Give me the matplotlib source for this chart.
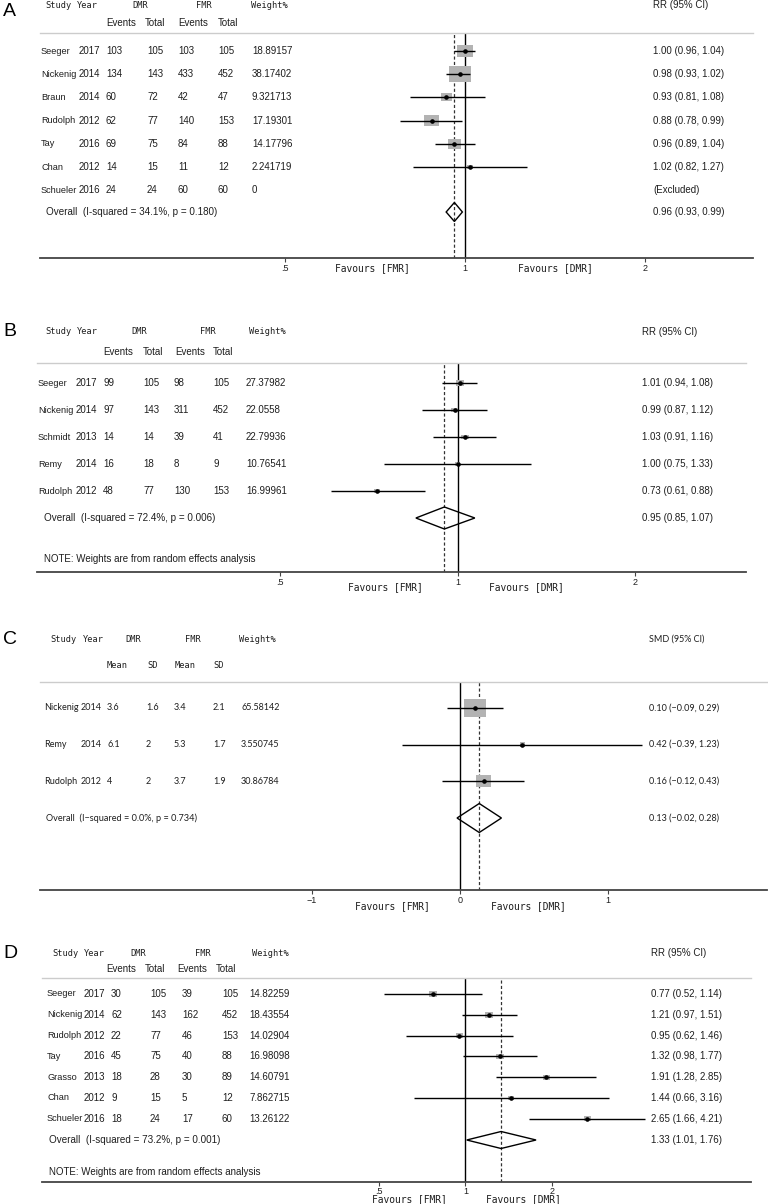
import matplotlib
matplotlib.use("Agg")
import matplotlib.pyplot as plt
import numpy as np
from matplotlib.path import Path
from matplotlib.ticker import FixedLocator, FixedFormatter, NullLocator
from matplotlib import font_manager

# ---------------- data ----------------
# Panel A
studies_A = ["Seeger", "Nickenig", "Braun", "Rudolph", "Tay", "Chan", "Schueler"]
years_A = [2017, 2014, 2014, 2012, 2016, 2012, 2016]
dmr_ev_A = [103, 134, 60, 62, 69, 14, 24]
dmr_tot_A = [105, 143, 72, 77, 75, 15, 24]
fmr_ev_A = [103, 433, 42, 140, 84, 11, 60]
fmr_tot_A = [105, 452, 47, 153, 88, 12, 60]
weight_A = [18.89157, 38.17402, 9.321713, 17.19301, 14.17796, 2.241719, 0]
rr_A = [1.00, 0.98, 0.93, 0.88, 0.96, 1.02, None]
lo_A = [0.96, 0.93, 0.81, 0.78, 0.89, 0.82, None]
hi_A = [1.04, 1.02, 1.08, 0.99, 1.04, 1.27, None]
overall_A = [0.96, 0.93, 0.99]
overall_text_A = "Overall  (I-squared = 34.1%, p = 0.180)"

# Panel B
studies_B = ["Seeger", "Nickenig", "Schmidt", "Remy", "Rudolph"]
years_B = [2017, 2014, 2013, 2014, 2012]
dmr_ev_B = [99, 97, 14, 16, 48]
dmr_tot_B = [105, 143, 14, 18, 77]
fmr_ev_B = [98, 311, 39, 8, 130]
fmr_tot_B = [105, 452, 41, 9, 153]
weight_B = [27.37982, 22.0558, 22.79936, 10.76541, 16.99961]
rr_B = [1.01, 0.99, 1.03, 1.00, 0.73]
lo_B = [0.94, 0.87, 0.91, 0.75, 0.61]
hi_B = [1.08, 1.12, 1.16, 1.33, 0.88]
overall_B = [0.95, 0.85, 1.07]
overall_text_B = "Overall  (I-squared = 72.4%, p = 0.006)"

# Panel C
studies_C = ["Nickenig", "Remy", "Rudolph"]
years_C = [2014, 2014, 2012]
dmr_mean_C = [3.6, 6.1, 4]
dmr_sd_C = [1.6, 2, 2]
fmr_mean_C = [3.4, 5.3, 3.7]
fmr_sd_C = [2.1, 1.7, 1.9]
weight_C = [65.58142, 3.550745, 30.86784]
smd_C = [0.10, 0.42, 0.16]
lo_C = [-0.09, -0.39, -0.12]
hi_C = [0.29, 1.23, 0.43]
overall_C = [0.13, -0.02, 0.28]
overall_text_C = "Overall  (I\u2212squared = 0.0%, p = 0.734)"

# Panel D
studies_D = ["Seeger", "Nickenig", "Rudolph", "Tay", "Grasso", "Chan", "Schueler"]
years_D = [2017, 2014, 2012, 2016, 2013, 2012, 2016]
dmr_ev_D = [30, 62, 22, 45, 18, 9, 18]
dmr_tot_D = [105, 143, 77, 75, 28, 15, 24]
fmr_ev_D = [39, 162, 46, 40, 30, 5, 17]
fmr_tot_D = [105, 452, 153, 88, 89, 12, 60]
weight_D = [14.82259, 18.43554, 14.02904, 16.98098, 14.60791, 7.862715, 13.26122]
rr_D = [0.77, 1.21, 0.95, 1.32, 1.91, 1.44, 2.65]
lo_D = [0.52, 0.97, 0.62, 0.98, 1.28, 0.66, 1.66]
hi_D = [1.14, 1.51, 1.46, 1.77, 2.85, 3.16, 4.21]
overall_D = [1.33, 1.01, 1.76]
overall_text_D = "Overall  (I-squared = 73.2%, p = 0.001)"

log_ticks = [0.5, 1, 2]
log_ticklabels = [".5", "1", "2"]
lin_ticks = [-1, 0, 1]
lin_ticklabels = ["\u22121", "0", "1"]
note_text = "NOTE: Weights are from random effects analysis"

# ---------------- figure ----------------
W, H = 768, 1204
fig = plt.figure(figsize=(W / 100, H / 100), dpi=100)
fig.patch.set_facecolor("white")

SANS = "Liberation Sans"
MONO = "DejaVu Sans Mono"
TXT = "#1e1e1e"
_installed = {f.name for f in font_manager.fontManager.ttflist}
if "Liberation Sans Narrow" in _installed:
    NAMEFONT, NAMESIZE = "Liberation Sans Narrow", 7.4
else:
    NAMEFONT, NAMESIZE = SANS, 6.6


def ftext(x, y, s, **kw):
    kw.setdefault("va", "center")
    kw.setdefault("color", TXT)
    fig.text(x / W, 1 - y / H, s, **kw)


def rect_marker(aspect):
    return Path([(-1, -aspect), (1, -aspect), (1, aspect), (-1, aspect), (-1, -aspect)],
                [Path.MOVETO, Path.LINETO, Path.LINETO, Path.LINETO, Path.CLOSEPOLY])


def draw_panel(P):
    L, R = P["L"], P["R"]
    ax = fig.add_axes([L / W, 1 - P["axis_y"] / H, (R - L) / W,
                       (P["axis_y"] - P["line_y"]) / H])
    (v1, p1), (v2, p2) = P["tickmap"]
    if P["log"]:
        f, finv = np.log, np.exp
        ax.set_xscale("log")
    else:
        f, finv = (lambda v: v), (lambda v: v)
    scale = (p2 - p1) / (f(v2) - f(v1))
    ax.set_xlim(finv(f(v1) + (L - p1) / scale), finv(f(v1) + (R - p1) / scale))
    ax.set_ylim(P["axis_y"], P["line_y"])
    ax.patch.set_alpha(0)

    for s in ["left", "right"]:
        ax.spines[s].set_visible(False)
    ax.spines["top"].set_color("#cccccc")
    ax.spines["top"].set_linewidth(1.0)
    ax.spines["bottom"].set_color("#444444")
    ax.spines["bottom"].set_linewidth(1.3)
    ax.yaxis.set_major_locator(NullLocator())
    ax.yaxis.set_minor_locator(NullLocator())
    ax.xaxis.set_major_locator(FixedLocator(P["ticks"]))
    ax.xaxis.set_major_formatter(FixedFormatter(P["ticklabels"]))
    ax.xaxis.set_minor_locator(NullLocator())
    ax.tick_params(axis="x", direction="out", length=3, width=0.8, color="#444444",
                   labelsize=6.5, pad=P["tickpad"], labelcolor=TXT)
    for lab in ax.get_xticklabels():
        lab.set_fontfamily(SANS)

    n = len(P["names"])
    ys = [P["first"] + i * P["step"] for i in range(n)]

    ax.axvline(P["null"], color="black", lw=1.0, zorder=2)
    ax.axvline(P["overall"][0], color="#333333", lw=0.9, ls=(0, (2.5, 1.8)), zorder=2)

    marker = rect_marker(P["aspect"])
    for i in range(n):
        e = P["est"][i]
        if e is None:
            continue
        ax.hlines(ys[i], P["lo"][i], P["hi"][i], color="black", lw=1.0, zorder=4)
        wpx = P["boxk"] * np.sqrt(P["weight"][i])
        ax.scatter([e], [ys[i]], marker=marker, s=(0.72 * wpx) ** 2,
                   color="#b3b3b3", edgecolors="none", zorder=3)
        ax.plot([e], [ys[i]], "o", ms=2.3, color="black", zorder=5)

    oe, ol, oh = P["overall"]
    yo, hd = P["overall_y"], P["dh"]
    ax.fill([ol, oe, oh, oe, ol], [yo, yo - hd, yo, yo + hd, yo],
            facecolor="none", edgecolor="black", lw=1.0, zorder=6)

    # ---- table text ----
    cx = P["cols"]
    tf = P["font"]
    nm, ov = P["numsize"], P["ovsize"]
    ftext(3, P["letter_y"], P["letter"], fontsize=14, family=SANS, color="black")
    hx = P["hdr"]
    ftext(hx[0], P["h1"], "Study", fontsize=6.2, family=MONO)
    ftext(hx[1], P["h1"], "Year", fontsize=6.2, family=MONO)
    ftext(hx[2], P["h1"], "DMR", fontsize=6.2, family=MONO, ha="center")
    ftext(hx[3], P["h1"], "FMR", fontsize=6.2, family=MONO, ha="center")
    ftext(hx[4], P["h1"], "Weight%", fontsize=6.2, family=MONO)
    sub = P["sub"]
    for k in range(4):
        ftext(P["subx"][k], P["h2"], sub[k], fontsize=P["subsize"], family=P["subfont"])
    ftext(P["rrx"], P["h1"], P["rrhead"], fontsize=nm, family=tf)

    for i in range(n):
        y = ys[i]
        ftext(cx[0], y, P["names"][i], fontsize=P["namesize"], family=P["namefont"])
        for j, col in enumerate(P["coldata"]):
            ftext(cx[j + 1], y, str(col[i]), fontsize=nm, family=tf)
        e = P["est"][i]
        if e is None:
            s = "(Excluded)"
        else:
            s = f"{e:.2f} ({P['lo'][i]:.2f}, {P['hi'][i]:.2f})"
            if P.get("minus"):
                s = s.replace("-", "\u2212")
        ftext(P["rrx"], y, s, fontsize=nm, family=tf)
    ftext(P["ovx"], P["overall_y"], P["overall_text"], fontsize=ov, family=tf)
    s = f"{oe:.2f} ({ol:.2f}, {oh:.2f})"
    if P.get("minus"):
        s = s.replace("-", "\u2212")
    ftext(P["rrx"], P["overall_y"], s, fontsize=nm, family=tf)
    if P.get("note_y"):
        ftext(P["ovx"], P["note_y"], note_text, fontsize=ov - 0.1, family=tf)
    ftext(P["fav"][0], P["fav_y"], "Favours [FMR]", fontsize=6.9, family=MONO, ha="center")
    ftext(P["fav"][1], P["fav_y"], "Favours [DMR]", fontsize=6.9, family=MONO, ha="center")


common_rr = dict(font=SANS, namefont=NAMEFONT, namesize=NAMESIZE, numsize=7.0, ovsize=7.1,
                 sub=["Events", "Total", "Events", "Total"], subfont=SANS, subsize=7.0,
                 rrhead="RR (95% CI)", ticks=log_ticks, ticklabels=log_ticklabels,
                 null=1, log=True)

panels = [
    dict(common_rr, letter="A", letter_y=12, h1=5, h2=23, line_y=33, axis_y=258,
         first=51, step=23.2, overall_y=212, note_y=None, dh=9.5,
         L=40, R=753, tickmap=[(0.5, 285), (2, 645)], tickpad=1.5,
         names=studies_A, est=rr_A, lo=lo_A, hi=hi_A, weight=weight_A,
         overall=overall_A, overall_text=overall_text_A,
         coldata=[years_A, dmr_ev_A, dmr_tot_A, fmr_ev_A, fmr_tot_A, weight_A],
         cols=[41, 79, 106, 147, 178, 218, 252], ovx=46, rrx=653,
         hdr=[45, 77, 140, 204, 251], subx=[106, 145, 178, 218],
         boxk=3.56, aspect=0.72, fav=[372, 555], fav_y=268),
    dict(common_rr, letter="B", letter_y=331, h1=332, h2=352, line_y=363, axis_y=572,
         first=383, step=27, overall_y=518, note_y=559, dh=11,
         L=37, R=746, tickmap=[(0.5, 280), (2, 635)], tickpad=1.5,
         names=studies_B, est=rr_B, lo=lo_B, hi=hi_B, weight=weight_B,
         overall=overall_B, overall_text=overall_text_B,
         coldata=[years_B, dmr_ev_B, dmr_tot_B, fmr_ev_B, fmr_tot_B, weight_B],
         cols=[38, 76, 103, 143, 174, 213, 246], ovx=44, rrx=642,
         hdr=[45, 77, 139, 208, 249], subx=[103, 143, 175, 213],
         boxk=1.5, aspect=0.68, fav=[385, 526], fav_y=587),
    dict(letter="C", letter_y=640, h1=639, h2=666, line_y=682, axis_y=890,
         first=708, step=36.5, overall_y=818, note_y=None, dh=14.5,
         L=40, R=767, log=False, tickmap=[(-1, 312), (1, 608)],
         ticks=lin_ticks, ticklabels=lin_ticklabels, tickpad=1.5, null=0,
         names=studies_C, est=smd_C, lo=lo_C, hi=hi_C, weight=weight_C,
         overall=overall_C, overall_text=overall_text_C,
         coldata=[years_C, dmr_mean_C, dmr_sd_C, fmr_mean_C, fmr_sd_C, weight_C],
         cols=[44, 81, 107, 146, 174, 213, 241], ovx=46, rrx=649,
         hdr=[50, 83, 133, 193, 239], sub=["Mean", "SD", "Mean", "SD"],
         subx=[107, 147, 175, 213], subfont=MONO, subsize=6.2, rrhead="SMD (95% CI)",
         font="Lato", namefont="Lato", namesize=6.5, numsize=6.5, ovsize=6.6,
         boxk=2.68, aspect=0.83, fav=[392, 528], fav_y=906, minus=True),
    dict(common_rr, letter="D", letter_y=953, h1=953, h2=969, line_y=978, axis_y=1182,
         first=994, step=20.8, overall_y=1140, note_y=1172, dh=8.5,
         L=42, R=751, tickmap=[(0.5, 379), (2, 552)], tickpad=0.5,
         names=studies_D, est=rr_D, lo=lo_D, hi=hi_D, weight=weight_D,
         overall=overall_D, overall_text=overall_text_D,
         coldata=[years_D, dmr_ev_D, dmr_tot_D, fmr_ev_D, fmr_tot_D, weight_D],
         cols=[47, 84, 111, 150, 182, 222, 249], ovx=49, rrx=651,
         hdr=[52, 84, 138, 203, 252], subx=[106, 145, 177, 216],
         boxk=1.9, aspect=0.7, fav=[409, 523], fav_y=1199),
]

for P in panels:
    draw_panel(P)

fig.savefig("out.png", dpi=100, facecolor="white")
